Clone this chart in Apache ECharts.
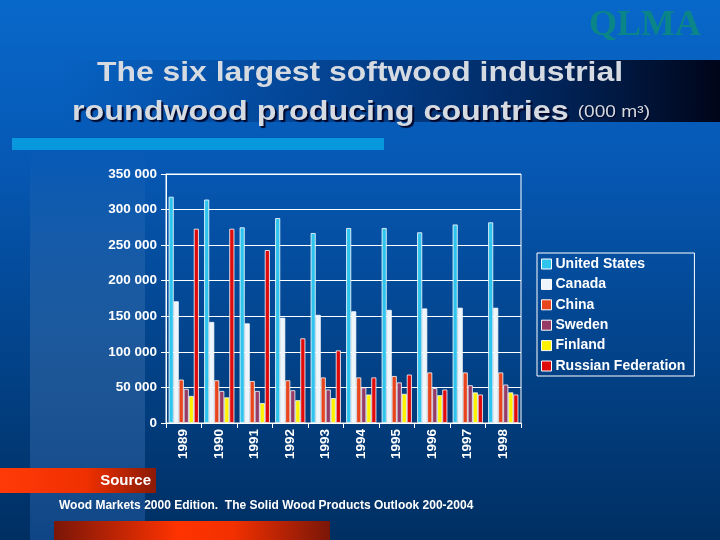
<!DOCTYPE html>
<html>
<head>
<meta charset="utf-8">
<script src="https://cdn.jsdelivr.net/npm/echarts@6/dist/echarts.min.js"></script>
<style>html,body{margin:0;padding:0;background:#0050a0;}#c{width:720px;height:540px;}</style>
</head>
<body>
<div id="c"></div>
<script>
const years = ['1989','1990','1991','1992','1993','1994','1995','1996','1997','1998'];
const unitedStates = [318000, 314000, 275000, 288000, 267000, 274000, 274000, 268000, 279000, 282000];
const canada = [171000, 142000, 140000, 148000, 152000, 157000, 159000, 161000, 162000, 162000];
const china = [61000, 60000, 59000, 60000, 64000, 64000, 66000, 71000, 71000, 71000];
const sweden = [48000, 45000, 45000, 46000, 47000, 50000, 57000, 49000, 53000, 54000];
const finland = [38000, 36000, 28000, 32000, 35000, 40000, 41000, 39000, 43000, 43000];
const russia = [273000, 273000, 243000, 119000, 102000, 64000, 68000, 47000, 40000, 40000];
const yTicks = [0, 50000, 100000, 150000, 200000, 250000, 300000, 350000];

const seriesDefs = [
  {name: 'United States', data: unitedStates, color: '#2fc4ee'},
  {name: 'Canada', data: canada, color: '#eef6fb'},
  {name: 'China', data: china, color: '#e8451c'},
  {name: 'Sweden', data: sweden, color: '#963a66'},
  {name: 'Finland', data: finland, color: '#fff200'},
  {name: 'Russian Federation', data: russia, color: '#e00a0a'}
];

const titleLine1 = 'The six largest softwood industrial';
const titleLine2a = 'roundwood producing countries ';
const titleLine2b = '(000 m³)';

const mctx = document.createElement('canvas').getContext('2d');
function measure(font, t) { mctx.font = font; return mctx.measureText(t).width; }
const tFont = 'bold 27px "Liberation Sans"';
const sFont = '16px "Liberation Sans"';
const w1 = measure(tFont, titleLine1);
const w2 = measure(tFont, titleLine2a) + measure(sFont, titleLine2b);
const sx1 = 526 / w1;
const sx2 = 578 / w2;

const chart = echarts.init(document.getElementById('c'), null, {renderer: 'canvas'});
const fmt = v => String(v).replace(/\B(?=(\d{3})+(?!\d))/g, ' ');
const shadow = {textShadowColor: 'rgba(0,0,30,0.9)', textShadowOffsetX: 2, textShadowOffsetY: 2, textShadowBlur: 1};

chart.setOption({
  animation: false,
  backgroundColor: {
    type: 'linear', x: 0, y: 0, x2: 0, y2: 1,
    colorStops: [
      {offset: 0, color: '#0868ca'},
      {offset: 0.3, color: '#0658b4'},
      {offset: 0.6, color: '#034690'},
      {offset: 1, color: '#002f62'}
    ]
  },
  graphic: [
    {type: 'rect', z: -10, shape: {x: 30, y: 150, width: 115, height: 390},
      style: {fill: {type: 'linear', x: 0, y: 0, x2: 0, y2: 1, colorStops: [
        {offset: 0, color: 'rgba(255,255,255,0)'}, {offset: 1, color: 'rgba(40,110,200,0.35)'}]}}},
    {type: 'rect', z: -10, shape: {x: 60, y: 60, width: 660, height: 62},
      style: {fill: {type: 'linear', x: 0, y: 0, x2: 1, y2: 0, colorStops: [
        {offset: 0, color: 'rgba(0,60,140,0)'}, {offset: 0.35, color: 'rgba(0,50,120,0.55)'},
        {offset: 0.75, color: 'rgba(0,25,70,0.85)'}, {offset: 1, color: 'rgba(0,5,25,1)'}]}}},
    {type: 'rect', shape: {x: 12, y: 138, width: 372, height: 12}, style: {fill: '#0898de'}},
    {type: 'text', left: 589, top: 8, style: {text: 'QLMA', font: 'bold 36px "Liberation Serif"', fill: '#0b8688',
      shadowColor: 'rgba(0,20,40,0.8)', shadowOffsetX: 2, shadowOffsetY: 2, shadowBlur: 1}},
    {type: 'text', x: 360, y: 74, scaleX: sx1, style: {text: titleLine1, font: tFont,
      fill: '#d6dbe2', align: 'center', verticalAlign: 'middle',
      shadowColor: 'rgba(0,0,30,0.9)', shadowOffsetX: 2, shadowOffsetY: 2, shadowBlur: 1}},
    {type: 'text', x: 361, y: 113, scaleX: sx2, style: {text: '{a|' + titleLine2a + '}{b|' + titleLine2b + '}',
      align: 'center', verticalAlign: 'middle',
      rich: {
        a: Object.assign({font: tFont, fill: '#d6dbe2'}, shadow),
        b: {font: sFont, fill: '#d6dbe2', textShadowColor: 'rgba(0,0,30,0.9)', textShadowOffsetX: 1, textShadowOffsetY: 1, textShadowBlur: 1}
      }}},
    {type: 'rect', shape: {x: 0, y: 468, width: 156, height: 25},
      style: {fill: {type: 'linear', x: 0, y: 0, x2: 1, y2: 0, colorStops: [
        {offset: 0, color: '#ff3a08'}, {offset: 0.55, color: '#f03000'}, {offset: 1, color: '#8a1a06'}]}}},
    {type: 'text', x: 151, y: 481, style: {text: 'Source', font: 'bold 15px "Liberation Sans"', fill: '#ffffff',
      align: 'right', verticalAlign: 'middle'}},
    {type: 'text', x: 59, y: 506, style: {text: 'Wood Markets 2000 Edition.  The Solid Wood Products Outlook 200-2004',
      font: 'bold 12px "Liberation Sans"', fill: '#ffffff', verticalAlign: 'middle'}},
    {type: 'rect', shape: {x: 54, y: 521, width: 276, height: 19},
      style: {fill: {type: 'linear', x: 0, y: 0, x2: 1, y2: 0, colorStops: [
        {offset: 0, color: '#7a1608'}, {offset: 0.45, color: '#ff3300'}, {offset: 0.65, color: '#f23000'}, {offset: 1, color: '#7a1608'}]}}}
  ],
  legend: {
    orient: 'vertical', left: 537, top: 253,
    data: seriesDefs.map(s => s.name),
    icon: 'rect', itemWidth: 10, itemHeight: 10, itemGap: 6.4,
    borderColor: '#ffffff', borderWidth: 1, padding: [4, 9, 3, 4],
    textStyle: {color: '#ffffff', fontWeight: 'bold', fontSize: 14, fontFamily: 'Liberation Sans', padding: [0, 0, 0, -1]},
    itemStyle: {borderColor: '#ffffff', borderWidth: 1}
  },
  grid: {left: 166, right: 199, top: 174, bottom: 117, show: true, borderColor: '#ffffff', borderWidth: 1},
  xAxis: {
    type: 'category', data: years,
    axisLine: {lineStyle: {color: '#ffffff', width: 1}},
    axisTick: {show: true, length: 5, lineStyle: {color: '#ffffff'}},
    axisLabel: {rotate: 90, color: '#ffffff', fontWeight: 'bold', fontSize: 13.5, fontFamily: 'Liberation Sans', margin: 6}
  },
  yAxis: {
    type: 'value', min: yTicks[0], max: yTicks[yTicks.length - 1], interval: yTicks[1] - yTicks[0],
    axisLine: {show: true, lineStyle: {color: '#ffffff'}},
    axisTick: {show: true, length: 5, lineStyle: {color: '#ffffff'}},
    splitLine: {lineStyle: {color: '#ffffff', width: 1}},
    axisLabel: {color: '#ffffff', fontWeight: 'bold', fontSize: 13.5, fontFamily: 'Liberation Sans', margin: 9, formatter: fmt}
  },
  series: seriesDefs.map(s => ({
    name: s.name, type: 'bar', data: s.data,
    barGap: '0%', barCategoryGap: '15%',
    itemStyle: {color: s.color, borderColor: '#ffffff', borderWidth: 0.8}
  }))
});
</script>
</body>
</html>
